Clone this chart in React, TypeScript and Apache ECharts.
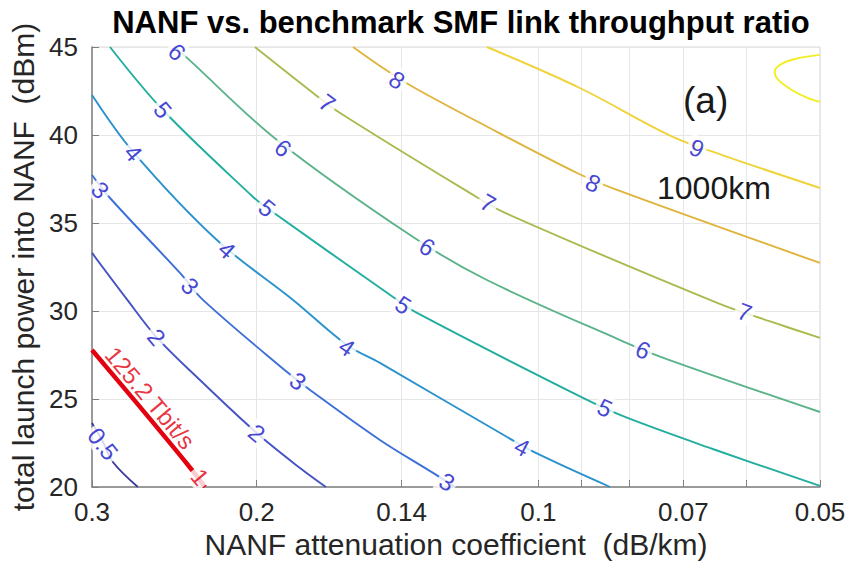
import React, { useEffect, useRef } from "react";
import * as echarts from "echarts";

// x: NANF attenuation coefficient (dB/km) (log, reversed), y: total launch power into NANF (dBm)
const xTickValues = [0.3, 0.2, 0.14, 0.1, 0.07, 0.05];
const xGridValues = [0.3, 0.2, 0.14, 0.1, 0.09, 0.08, 0.07, 0.06, 0.05];

const contourLevels = [0.5, 1, 2, 3, 4, 5, 6, 7, 8, 9, 10];

const contour0p5 = [[0.3, 23.64], [0.292, 22.56], [0.285, 21.42], [0.268, 20.0]];
const contour1 = [[0.3, 27.78], [0.2666, 24.55], [0.2369, 21.25], [0.2272, 20.0]];
const contour2 = [[0.3, 33.3], [0.275, 30.63], [0.256, 28.52], [0.23, 26.08], [0.2, 23.07], [0.1798, 21.08], [0.1687, 20.0]];
const contour3 = [[0.3, 37.73], [0.287, 36.42], [0.2416, 32.16], [0.2283, 30.63], [0.1856, 26.53], [0.1754, 25.51], [0.1477, 22.67], [0.1296, 20.8], [0.1228, 20.0]];
const contour4 = [[0.3, 42.27], [0.271, 39.03], [0.2206, 34.03], [0.1829, 30.63], [0.1602, 28.07], [0.1477, 27.05], [0.108, 22.84], [0.0996, 21.82], [0.0838, 20.0]];
const contour5 = [[0.287, 45.0], [0.252, 41.42], [0.2018, 36.48], [0.195, 35.85], [0.143, 30.8], [0.1348, 29.89], [0.0896, 25.06], [0.0808, 23.98], [0.0651, 22.16], [0.05, 20.06]];
const contour6 = [[0.2446, 45.0], [0.2374, 44.38], [0.1903, 39.72], [0.1361, 34.2], [0.1135, 31.76], [0.0818, 28.35], [0.0729, 27.27], [0.05, 24.26]];
const contour7 = [[0.2009, 45.0], [0.1741, 42.39], [0.1629, 41.25], [0.1183, 36.7], [0.1085, 35.57], [0.0643, 30.45], [0.0563, 29.38], [0.05, 28.47]];
const contour8 = [[0.1578, 45.0], [0.1466, 43.81], [0.1361, 42.73], [0.1154, 40.68], [0.0909, 37.84], [0.0824, 36.88], [0.05, 32.73]];
const contour9 = [[0.1135, 45.0], [0.0903, 42.67], [0.0718, 39.89], [0.0636, 38.86], [0.05, 36.99]];
const contour10 = [[0.05, 44.55], [0.0532, 44.32], [0.0552, 43.98], [0.0559, 43.58], [0.0554, 43.13], [0.0536, 42.56], [0.0515, 42.1], [0.05, 41.88]];

// contour label anchor points (data coordinates)
const labels0p5 = [[0.292, 22.45]];
const labels1 = [[0.23, 20.57]];
const labels2 = [[0.256, 28.52], [0.2, 23.07]];
const labels3 = [[0.294, 36.88], [0.2357, 31.42], [0.1807, 26.02], [0.1252, 20.28]];
const labels4 = [[0.271, 38.98], [0.2152, 33.47], [0.1602, 27.95], [0.1041, 22.27]];
const labels5 = [[0.252, 41.42], [0.195, 35.85], [0.1395, 30.34], [0.0849, 24.49]];
const labels6 = [[0.2434, 44.72], [0.1875, 39.26], [0.1315, 33.64], [0.0773, 27.78]];
const labels7 = [[0.1682, 41.82], [0.1132, 36.14], [0.0602, 29.94]];
const labels8 = [[0.1416, 43.13], [0.0874, 37.27]];
const labels9 = [[0.0677, 39.26]];
const labels10: number[][] = [];

const throughputText = "125.2 Tbit/s";
const throughputAnchor = [[0.26, 25.06]];

const contourLines = [contour0p5, contour1, contour2, contour3, contour4, contour5, contour6, contour7, contour8, contour9, contour10];
const contourLabels = [labels0p5, labels1, labels2, labels3, labels4, labels5, labels6, labels7, labels8, labels9, labels10];

// styles
const FONT = "Liberation Sans, Arial, Helvetica, sans-serif";
const lineColors = ["#3b3b9c", "#e3000f", "#4553c4", "#3d6fd8", "#2a92cc", "#22ae9f", "#5bb38a", "#a9ba4f", "#e0b43c", "#efd33a", "#f2ee24"];
const labelRotations = [
  [-52],
  [-50],
  [-50, -40],
  [-48, -48, -38, -30],
  [-50, -42, -35, -28],
  [-50, -40, -33, -25],
  [-45, -40, -32, -24],
  [-37, -30, -20],
  [-33, -25],
  [-22],
  [],
];

export default function App() {
  const ref = useRef<HTMLDivElement>(null);
  useEffect(() => {
    if (!ref.current) return;
    const chart = echarts.init(ref.current, undefined, { renderer: "svg" });
    const series: any[] = [];
    contourLevels.forEach((lv, i) => {
      const isRed = lv === 1;
      series.push({
        type: "line",
        data: contourLines[i],
        symbol: "none",
        showSymbol: false,
        smooth: 0.35,
        silent: true,
        z: isRed ? 3 : 2,
        lineStyle: { color: lineColors[i], width: isRed ? 4.5 : 1.9 },
      });
      if (contourLabels[i].length) {
        series.push({
          type: "scatter",
          symbolSize: 1,
          silent: true,
          z: 5,
          itemStyle: { color: "rgba(0,0,0,0)" },
          data: contourLabels[i].map((p, k) => ({
            value: p,
            label: { rotate: labelRotations[i][k] },
          })),
          label: {
            show: true,
            position: "inside",
            formatter: String(lv),
            color: isRed ? "#e3000f" : "#1414c8",
            fontSize: 24,
            fontFamily: FONT,
            backgroundColor: "#ffffff",
            padding: [0, 3],
          },
        });
      }
    });
    series.push({
      type: "scatter",
      symbolSize: 1,
      silent: true,
      z: 5,
      itemStyle: { color: "rgba(0,0,0,0)" },
      data: throughputAnchor.map((p) => ({ value: p })),
      label: {
        show: true,
        position: "inside",
        formatter: throughputText,
        rotate: -50,
        color: "#e3000f",
        fontSize: 24,
        fontFamily: FONT,
      },
    });

    chart.setOption({
      animation: false,
      backgroundColor: "#ffffff",
      title: {
        text: "NANF vs. benchmark SMF link throughput ratio",
        left: 456,
        top: 2,
        textAlign: "center",
        textStyle: { fontFamily: FONT, fontWeight: "bold", fontSize: 31, color: "#000000" },
      },
      grid: {
        left: 92,
        right: 33,
        top: 47,
        bottom: 81,
        show: true,
        borderColor: "#d9d9d9",
        borderWidth: 1,
        backgroundColor: "#ffffff",
      },
      xAxis: {
        type: "log",
        logBase: 10,
        min: 0.05,
        max: 0.3,
        inverse: true,
        name: "NANF attenuation coefficient  (dB/km)",
        nameLocation: "middle",
        nameGap: 40,
        nameTextStyle: { fontFamily: FONT, fontSize: 30, color: "#262626" },
        axisLine: { show: true, lineStyle: { color: "#808080", width: 1.5 } },
        axisTick: { show: true, inside: true, length: 7, customValues: xGridValues, lineStyle: { color: "#808080" } },
        axisLabel: {
          customValues: xTickValues,
          formatter: (v: any) => String(+(+v).toFixed(3)),
          fontFamily: FONT,
          fontSize: 26,
          color: "#262626",
          margin: 12,
        },
        splitLine: { show: true, lineStyle: { color: "#e6e6e6", width: 1 } },
      },
      yAxis: {
        type: "value",
        min: 20,
        max: 45,
        interval: 5,
        name: "total launch power into NANF  (dBm)",
        nameLocation: "middle",
        nameGap: 48,
        nameRotate: 90,
        nameTextStyle: { fontFamily: FONT, fontSize: 30, color: "#262626" },
        axisLine: { show: true, lineStyle: { color: "#808080", width: 1.5 } },
        axisTick: { show: true, inside: true, length: 7, lineStyle: { color: "#808080" } },
        axisLabel: { fontFamily: FONT, fontSize: 26, color: "#262626", margin: 14, padding: [8, 0, 0, 0] },
        splitLine: { show: true, lineStyle: { color: "#e6e6e6", width: 1 } },
      },
      graphic: [
        {
          type: "text",
          left: 683,
          top: 82,
          style: { text: "(a)", fontFamily: FONT, fontSize: 37, fill: "#1a1a1a" },
          z: 10,
        },
        {
          type: "text",
          left: 657,
          top: 172,
          style: { text: "1000km", fontFamily: FONT, fontSize: 32, fill: "#1a1a1a" },
          z: 10,
        },
      ],
      series,
    });
    return () => chart.dispose();
  }, []);
  return (
    <div
      ref={ref}
      style={{ position: "absolute", left: 0, top: 0, width: 853, height: 568 }}
    />
  );
}
